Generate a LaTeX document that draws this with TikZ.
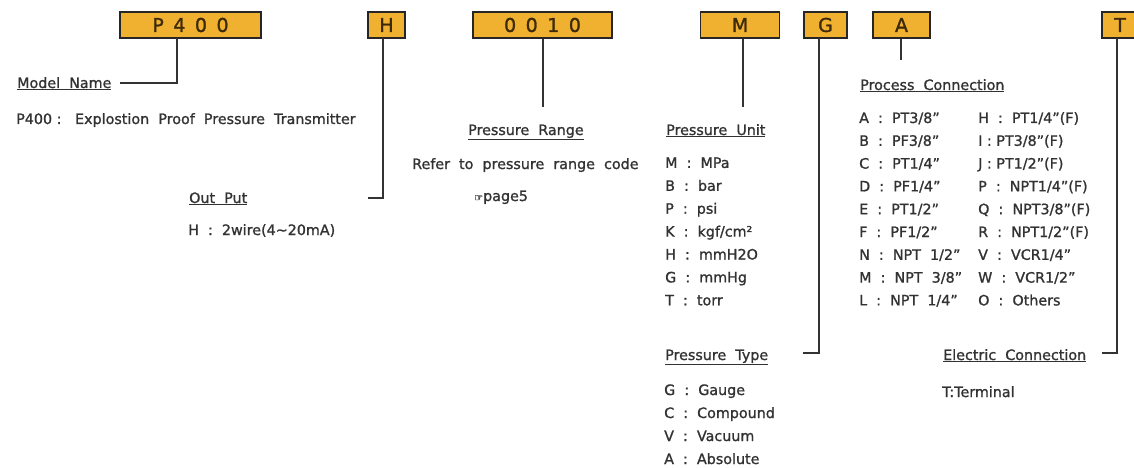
\documentclass[tikz,border=0pt]{standalone}
\usepackage{fontspec}
\setmainfont{DejaVu Sans}[FakeBold=1.2]
\newfontfamily\boxfont{DejaVu Sans}[FakeBold=1.4]
\usetikzlibrary{positioning}
\usetikzlibrary{calc}

\definecolor{codefill}{RGB}{240,176,48}
\definecolor{codetext}{RGB}{60,42,8}
\definecolor{txtgray}{RGB}{50,50,50}

\tikzset{
  codebox/.style={draw=black!85, line width=1.5pt, fill=codefill, text=codetext,
    minimum height=26pt, inner sep=0pt, font=\boxfont\fontsize{19}{19}\selectfont},
  head/.style={anchor=base west, inner sep=1pt, text=txtgray, font=\fontsize{14.3}{14.3}\selectfont},
  item/.style={anchor=base west, inner sep=0pt, text=txtgray, font=\fontsize{14.3}{14.3}\selectfont},
  link/.style={draw=black!80, line width=1.5pt}
}
\newcommand{\gap}{\hspace{9.5pt}}

\begin{document}
\begin{tikzpicture}[x=1pt, y=-1pt]
  \useasboundingbox (0,0) rectangle (1134,468);

  % code boxes
  \node[codebox, minimum width=141pt] (p400) at (190.5,25) {P\gap4\gap0\gap0};
  \node[codebox, minimum width=37pt] (hbox) at (386.5,25) {H};
  \node[codebox, minimum width=139pt] (rangebox) at (542.5,25) {0\gap0\gap1\gap0};
  \node[codebox, minimum width=79pt] (unitbox) at (740,25) {M};
  \node[codebox, minimum width=43pt] (typebox) at (825.5,25) {G};
  \node[codebox, minimum width=57pt] (procbox) at (901.5,25) {A};
  \node[codebox, minimum width=36pt] (elecbox) at (1120,25) {T};

  % model name
  \node[head] (model) at (16,88) {\underline{Model\ \ Name}};
  \node[item] (modeltxt) at (16,124) {P400 :\ \ \ Explostion\ \ Proof\ \ Pressure\ \ Transmitter};
  \coordinate (modeltop) at (177,38);
  \coordinate (modelend) at (120,83);
  \draw[link] (modeltop) |- (modelend);

  % output
  \node[head] (output) at (188,203) {\underline{Out\ \ Put}};
  \node[item] (outtxt) at (188,235) {H\ \ :\ \ 2wire(4\textasciitilde20mA)};
  \coordinate (outtop) at (383,38);
  \coordinate (outend) at (368,198);
  \draw[link] (outtop) |- (outend);

  % pressure range
  \node[head] (range) at (467,135) {\underline{Pressure\ \ Range}};
  \node[item] (rangetxt) at (412,169) {Refer\ \ to\ \ pressure\ \ range\ \ code};
  \node[item] (pagetxt) at (474,201) {{\fontsize{10}{10}\selectfont ☞}page5};
  \coordinate (rangeend) at (543,107);
  \draw[link] (rangebox.south -| rangeend) -- (rangeend);

  % pressure unit
  \node[head] (unit) at (665,135) {\underline{Pressure\ \ Unit}};
  \foreach \t [count=\i] in {M\ \ :\ \ MPa, B\ \ :\ \ bar, P\ \ :\ \ psi, K\ \ :\ \ kgf/cm², H\ \ :\ \ mmH2O, G\ \ :\ \ mmHg, T\ \ :\ \ torr}
    {\node[item] (unit\i) at (665,145+22.9*\i) {\t};}
  \coordinate (unitend) at (743,107);
  \draw[link] (unitbox.south -| unitend) -- (unitend);

  % pressure type
  \node[head] (ptype) at (664,360) {\underline{Pressure\ \ Type}};
  \foreach \t [count=\i] in {G\ \ :\ \ Gauge, C\ \ :\ \ Compound, V\ \ :\ \ Vacuum, A\ \ :\ \ Absolute}
    {\node[item] (type\i) at (664,372+23*\i) {\t};}
  \coordinate (typetop) at (819,38);
  \coordinate (typeend) at (803,353);
  \draw[link] (typetop) |- (typeend);

  % process connection
  \node[head] (proc) at (859,90) {\underline{Process\ \ Connection}};
  \foreach \t [count=\i] in {A\ \ :\ \ PT3/8", B\ \ :\ \ PF3/8", C\ \ :\ \ PT1/4", D\ \ :\ \ PF1/4", E\ \ :\ \ PT1/2", F\ \ :\ \ PF1/2", N\ \ :\ \ NPT\ \ 1/2", M\ \ :\ \ NPT\ \ 3/8", L\ \ :\ \ NPT\ \ 1/4"}
    {\node[item] (procl\i) at (859,100.2+22.8*\i) {\t};}
  \foreach \t [count=\i] in {H\ \ :\ \ PT1/4"(F), I\ :\ PT3/8"(F), J\ :\ PT1/2"(F), P\ \ :\ \ NPT1/4"(F), Q\ \ :\ \ NPT3/8"(F), R\ \ :\ \ NPT1/2"(F), V\ \ :\ \ VCR1/4", W\ \ :\ \ VCR1/2", O\ \ :\ \ Others}
    {\node[item] (procr\i) at (978,100.2+22.8*\i) {\t};}
  \coordinate (procend) at (901,60);
  \draw[link] (procbox.south -| procend) -- (procend);

  % electric connection
  \node[head] (elec) at (942,360) {\underline{Electric\ \ Connection}};
  \node[item] (electxt) at (942,397) {T:Terminal};
  \coordinate (electop) at (1117,38);
  \coordinate (elecend) at (1102,353);
  \draw[link] (electop) |- (elecend);
\end{tikzpicture}
\end{document}
